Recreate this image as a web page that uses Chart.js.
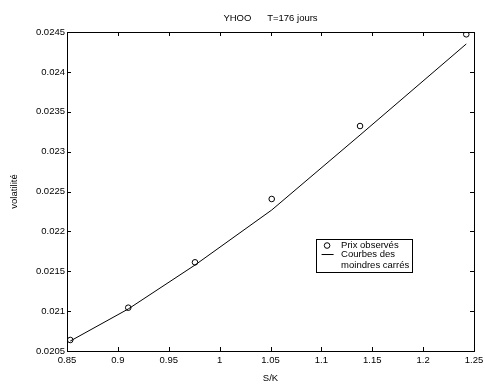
<!DOCTYPE html>
<html>
<head>
<meta charset="utf-8">
<script src="https://cdn.jsdelivr.net/npm/chart.js@4/dist/chart.umd.min.js"></script>
<style>
  body { margin: 0; background: #fff; }
</style>
</head>
<body>
<canvas id="chart" width="485" height="385"></canvas>
<script>
// observed prices (circles) and least-squares curve (line)
const obsX = [0.8532, 0.9102, 0.9758, 1.0512, 1.1380, 1.2424]
const obsY = [0.020638, 0.021043, 0.021612, 0.022406, 0.023321, 0.024471]
const fitX = [0.8532, 0.9102, 0.9758, 1.0512, 1.1380, 1.2424]
const fitY = [0.020625, 0.021027, 0.021578, 0.022268, 0.023208, 0.024350]

const xTicks = [0.85, 0.9, 0.95, 1, 1.05, 1.1, 1.15, 1.2, 1.25]
const yTicks = [0.0205, 0.021, 0.0215, 0.022, 0.0225, 0.023, 0.0235, 0.024, 0.0245]

const titleText = 'YHOO      T=176 jours'
const legendLabels = ['Prix observés', 'Courbes des\nmoindres carrés']

Chart.defaults.font.family = '"Liberation Sans", Arial, sans-serif'
Chart.defaults.font.size = 9.5
Chart.defaults.color = '#000'

// box round the plot and ticks pointing inwards, like matlab
const boxPlugin = {
    id: 'box',
    afterDraw(chart) {
        const ctx = chart.ctx
        const a = chart.chartArea
        const xs = chart.scales.x, ys = chart.scales.y
        const len = 4
        ctx.save()
        ctx.strokeStyle = '#000'
        ctx.lineWidth = 1
        ctx.strokeRect(Math.round(a.left) + 0.5, Math.round(a.top) + 0.5,
            Math.round(a.right - a.left), Math.round(a.bottom - a.top))
        ctx.beginPath()
        xs.ticks.forEach(t => {
            const px = Math.round(xs.getPixelForValue(t.value)) + 0.5
            ctx.moveTo(px, a.bottom); ctx.lineTo(px, a.bottom - len)
            ctx.moveTo(px, a.top); ctx.lineTo(px, a.top + len)
        })
        ys.ticks.forEach(t => {
            const py = Math.round(ys.getPixelForValue(t.value)) + 0.5
            ctx.moveTo(a.left, py); ctx.lineTo(a.left + len, py)
            ctx.moveTo(a.right, py); ctx.lineTo(a.right - len, py)
        })
        ctx.stroke()
        ctx.restore()
    }
}

// legend in a framed box inside the plot
const legendBox = {
    id: 'legendBox',
    afterDraw(chart) {
        const ctx = chart.ctx
        const a = chart.chartArea
        const w = a.right - a.left, h = a.bottom - a.top
        const x0 = a.left + w * 0.612, y0 = a.top + h * 0.649
        const bw = 96, bh = 33
        ctx.save()
        ctx.fillStyle = '#fff'
        ctx.fillRect(x0, y0, bw, bh)
        ctx.strokeStyle = '#000'
        ctx.lineWidth = 1
        ctx.strokeRect(Math.round(x0) + 0.5, Math.round(y0) + 0.5, bw, bh)
        ctx.font = '9.5px "Liberation Sans", Arial, sans-serif'
        ctx.fillStyle = '#000'
        ctx.textBaseline = 'middle'
        // circle marker
        ctx.beginPath()
        ctx.arc(x0 + 11, y0 + 6.5, 2.8, 0, Math.PI * 2)
        ctx.stroke()
        ctx.fillText(legendLabels[0], x0 + 25, y0 + 6.5)
        // line marker
        ctx.beginPath()
        ctx.moveTo(x0 + 5.5, y0 + 15.5); ctx.lineTo(x0 + 17.5, y0 + 15.5)
        ctx.stroke()
        const lines = legendLabels[1].split('\n')
        lines.forEach((s, i) => ctx.fillText(s, x0 + 25, y0 + 15.5 + i * 10.5))
        ctx.restore()
    }
}

const ctx = document.getElementById('chart')
new Chart(ctx, {
    type: 'scatter',
    data: {
        datasets: [{
            label: legendLabels[0],
            data: obsX.map((x, i) => ({x: x, y: obsY[i]})),
            showLine: false,
            pointStyle: 'circle',
            pointRadius: 2.8,
            pointBorderWidth: 1,
            pointBorderColor: '#000',
            pointBackgroundColor: 'rgba(0,0,0,0)'
        }, {
            label: legendLabels[1],
            data: fitX.map((x, i) => ({x: x, y: fitY[i]})),
            showLine: true,
            borderColor: '#000',
            borderWidth: 1,
            pointRadius: 0,
            tension: 0
        }]
    },
    options: {
        responsive: false,
        animation: false,
        layout: { padding: { left: 0, right: 11, top: 0, bottom: 0 } },
        plugins: {
            legend: { display: false },
            tooltip: { enabled: false },
            title: {
                display: true,
                fullSize: false,
                text: titleText,
                color: '#000',
                font: { size: 9.5, weight: 'normal' },
                padding: { top: 12.3, bottom: 8.3 }
            }
        },
        scales: {
            x: {
                type: 'linear',
                min: 0.85, max: 1.25,
                afterBuildTicks: s => { s.ticks = xTicks.map(v => ({value: v})) },
                afterFit: s => { s.height = 34; s.paddingLeft = 0; s.paddingRight = 0 },
                grid: { display: false, drawTicks: false, tickLength: 0 },
                border: { display: false },
                ticks: {
                    padding: 4,
                    maxRotation: 0,
                    autoSkip: false,
                    callback: v => String(parseFloat(v.toFixed(4)))
                },
                title: { display: true, text: 'S/K', padding: { top: 0, bottom: 1.3 } }
            },
            y: {
                type: 'linear',
                min: 0.0205, max: 0.0245,
                afterBuildTicks: s => { s.ticks = yTicks.map(v => ({value: v})) },
                afterFit: s => { s.width = 67 },
                grid: { display: false, drawTicks: false, tickLength: 0 },
                border: { display: false },
                ticks: {
                    padding: 2,
                    autoSkip: false,
                    callback: v => String(parseFloat(v.toFixed(6)))
                },
                title: { display: true, text: 'volatilité', padding: { top: 9, bottom: 0 } }
            }
        }
    },
    plugins: [boxPlugin, legendBox]
});
</script>
</body>
</html>
